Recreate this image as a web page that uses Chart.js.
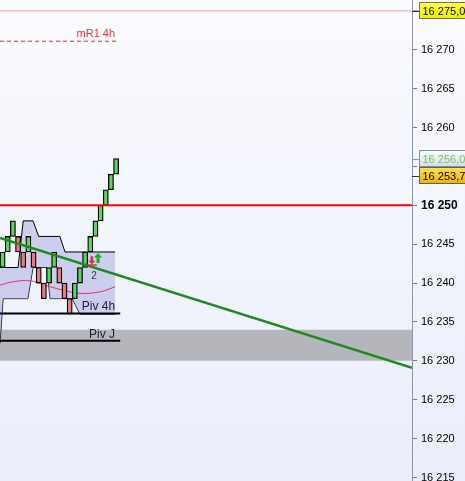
<!DOCTYPE html>
<html>
<head>
<meta charset="utf-8">
<script src="https://cdn.jsdelivr.net/npm/chart.js@4.4.0/dist/chart.umd.min.js"></script>
<style>
  html, body { margin: 0; padding: 0; background: #f5f7fd; }
  #wrap { width: 465px; height: 481px; position: relative; }
</style>
</head>
<body>
<div id="wrap"><canvas id="chart"></canvas></div>
<script>
// renko bricks, 2 points each
const brickOpen  = [16242, 16244, 16246, 16246, 16244, 16244, 16244, 16242, 16240, 16240, 16242, 16242, 16240, 16238, 16238, 16240, 16242, 16244, 16246, 16248, 16250, 16252, 16254];
const brickClose = [16244, 16246, 16248, 16244, 16242, 16246, 16242, 16240, 16238, 16242, 16244, 16240, 16238, 16236, 16240, 16242, 16244, 16246, 16248, 16250, 16252, 16254, 16256];

// channel (upper / lower)
const upperX = [-0.5, 3, 4, 5.9, 7, 11.1, 12.1, 21.8];
const upperY = [16242, 16242, 16248, 16248, 16246, 16246, 16244, 16244];
const lowerX = [-0.5, 0.1, 4.9, 5.9, 8.6, 9.2, 13.5, 15, 21.8];
const lowerY = [16232.3, 16238, 16238, 16242, 16242, 16238, 16238, 16236, 16236];

// moving average
const maX = [-0.5, 2, 5.3, 7.8, 11.7, 15, 18.9, 21.8];
const maY = [16239.74, 16240.17, 16240.3, 16239.8, 16239.1, 16238.68, 16238.88, 16239.52];

// trend line
const trendX = [-0.5, 79.35];
const trendY = [16245.8, 16229.1];

// levels
const levelR1 = 16271.1;
const levelTop = 16275;
const level16250 = 16250;
const levelPiv4h = 16236.1;
const levelPivJ = 16232.6;
const zoneTop = 16234;
const zoneBottom = 16230;

// signals
const sigX = [17.3, 18.5];
const sigP = [16242.8, 16243.1];
const sigDir = ['down', 'up'];
const sigCount = '2';

// price tags on the axis
const tagValues = [16275, 16256, 16253.75];
const tagTexts = ['16 275,00', '16 256,00', '16 253,75'];

const xMin = -0.5, xMax = 79.35;
const yMin = 16214.55, yMax = 16276.4;
const FONT = '"Liberation Sans", Arial, sans-serif';

const pts = (xs, ys) => xs.map((x, i) => ({ x, y: ys[i] }));
const hline = (v, x0, x1) => [{ x: x0, y: v }, { x: x1, y: v }];
const fmt = v => Math.round(v).toString().replace(/\B(?=(\d{3})+(?!\d))/g, ' ');

const lineBase = { type: 'line', pointRadius: 0, pointHoverRadius: 0, tension: 0, fill: false };

const bgPlugin = {
  id: 'bg',
  beforeDraw(chart) {
    const { ctx, width, height } = chart;
    const g = ctx.createLinearGradient(0, 0, 0, height);
    g.addColorStop(0, '#fbfbff');
    g.addColorStop(1, '#e9eefa');
    ctx.save();
    ctx.fillStyle = g;
    ctx.fillRect(0, 0, width, height);
    ctx.restore();
  }
};

const labelPlugin = {
  id: 'labels',
  afterDatasetsDraw(chart) {
    const { ctx } = chart;
    const x = chart.scales.x, y = chart.scales.y;
    const right = x.getPixelForValue(21.8);
    ctx.save();
    ctx.textAlign = 'right';
    ctx.textBaseline = 'alphabetic';
    ctx.font = '11px ' + FONT;
    ctx.fillStyle = '#ff2a2a';
    ctx.fillText('mR1 4h', right, y.getPixelForValue(levelR1) - 4);
    ctx.fillStyle = '#1c1c40';
    ctx.font = '12px ' + FONT;
    ctx.fillText('Piv 4h', right, y.getPixelForValue(levelPiv4h) - 3);
    ctx.fillText('Piv J', right, y.getPixelForValue(levelPivJ) - 3);

    // signal arrows
    sigX.forEach((sx, i) => {
      const px = x.getPixelForValue(sx), py = y.getPixelForValue(sigP[i]);
      ctx.beginPath();
      if (sigDir[i] === 'up') {
        ctx.fillStyle = '#22aa22';
        ctx.moveTo(px, py - 6); ctx.lineTo(px + 4, py - 1.5); ctx.lineTo(px + 1.5, py - 1.5);
        ctx.lineTo(px + 1.5, py + 4); ctx.lineTo(px - 1.5, py + 4); ctx.lineTo(px - 1.5, py - 1.5);
        ctx.lineTo(px - 4, py - 1.5); ctx.closePath();
      } else {
        ctx.fillStyle = '#e03030';
        ctx.moveTo(px, py + 3); ctx.lineTo(px + 3.5, py - 0.5); ctx.lineTo(px + 1.3, py - 0.5);
        ctx.lineTo(px + 1.3, py - 5); ctx.lineTo(px - 1.3, py - 5); ctx.lineTo(px - 1.3, py - 0.5);
        ctx.lineTo(px - 3.5, py - 0.5); ctx.closePath();
        ctx.fillRect(px - 4, py + 3, 9, 1.5);
      }
      ctx.fill();
    });
    ctx.textAlign = 'center';
    ctx.font = '10px ' + FONT;
    ctx.fillStyle = '#333344';
    ctx.fillText(sigCount, x.getPixelForValue(17.7), y.getPixelForValue(16241.0) + 4);
    ctx.restore();
  }
};

const tagPlugin = {
  id: 'tags',
  afterDraw(chart) {
    const { ctx } = chart;
    const y = chart.scales.y;
    const ax = chart.chartArea.right;
    const styles = [
      { top: '#ffff40', bot: '#f2f200', stroke: '#707070', text: '#000000', tick: '#333333' },
      { top: '#fafbfc', bot: '#d8dde4', stroke: '#8090a0', text: '#66cc66', tick: '#55cc55' },
      { top: '#ffe24a', bot: '#f0b400', stroke: '#606060', text: '#000000', tick: '#333333' }
    ];
    ctx.save();
    ctx.font = '11px ' + FONT;
    ctx.textBaseline = 'middle';
    ctx.textAlign = 'left';
    // draw lowest first so upper tags sit on top
    [2, 1, 0].forEach(i => {
      const py = Math.round(y.getPixelForValue(tagValues[i]));
      const s = styles[i];
      ctx.strokeStyle = s.tick;
      ctx.lineWidth = 1;
      ctx.beginPath(); ctx.moveTo(ax, py + 0.5); ctx.lineTo(ax + 8, py + 0.5); ctx.stroke();
      const bx = ax + 7.5, by = py - 8.5, bw = 52, bh = 16;
      const g = ctx.createLinearGradient(0, by, 0, by + bh);
      g.addColorStop(0, s.top); g.addColorStop(1, s.bot);
      ctx.fillStyle = g;
      ctx.fillRect(bx, by, bw, bh);
      ctx.strokeStyle = s.stroke;
      ctx.strokeRect(bx, by, bw, bh);
      ctx.fillStyle = s.text;
      ctx.fillText(tagTexts[i], bx + 3, py + 0.5);
    });
    ctx.restore();
  }
};

new Chart(document.getElementById('chart'), {
  type: 'bar',
  data: {
    datasets: [
      { ...lineBase, data: pts(trendX, trendY), borderColor: '#1f8a1f', borderWidth: 2.5, order: 0 },
      { ...lineBase, data: hline(level16250, xMin, xMax), borderColor: '#ff0000', borderWidth: 2, order: 1 },
      { ...lineBase, data: hline(levelPiv4h, xMin, 22.8), borderColor: '#000000', borderWidth: 2, order: 2 },
      { ...lineBase, data: hline(levelPivJ, xMin, 22.8), borderColor: '#000000', borderWidth: 2, order: 2 },
      { ...lineBase, data: hline(levelR1, xMin, 22.2), borderColor: '#e02828', borderWidth: 1, borderDash: [4, 3], order: 2 },
      { ...lineBase, data: hline(levelTop, xMin, 81), borderColor: '#ff9a9a', borderWidth: 1, order: 2, clip: { left: 0, top: 0, bottom: 0, right: 8 } },
      {
        type: 'bar',
        data: brickOpen.map((o, i) => ({ x: i, y: [o, brickClose[i]] })),
        backgroundColor: brickOpen.map((o, i) => brickClose[i] > o ? '#5ad85a' : '#ee7a7a'),
        borderColor: '#000000',
        borderWidth: 1.3,
        borderSkipped: false,
        barPercentage: 1,
        categoryPercentage: 1,
        grouped: false,
        order: 3
      },
      { ...lineBase, data: pts(maX, maY), borderColor: '#e8306a', borderWidth: 1, tension: 0.4, order: 4 },
      { ...lineBase, data: pts(upperX, upperY), borderColor: '#000000', borderWidth: 1, fill: '+1', backgroundColor: 'rgba(178,180,230,0.6)', order: 5 },
      { ...lineBase, data: pts(lowerX, lowerY), borderColor: '#000000', borderWidth: 1, order: 5 },
      { ...lineBase, data: hline(zoneTop, xMin, xMax), borderWidth: 0, borderColor: 'rgba(0,0,0,0)', fill: { value: zoneBottom }, backgroundColor: '#b4b6bc', order: 6 }
    ]
  },
  options: {
    responsive: true,
    maintainAspectRatio: false,
    animation: false,
    events: [],
    layout: { padding: 0 },
    plugins: { legend: { display: false }, tooltip: { enabled: false } },
    scales: {
      x: {
        type: 'linear',
        display: false,
        min: xMin,
        max: xMax,
        offset: false,
        ticks: { stepSize: 1, includeBounds: false }
      },
      y: {
        position: 'right',
        min: yMin,
        max: yMax,
        afterFit: s => { s.width = 53; s.paddingTop = 0; s.paddingBottom = 0; },
        border: { display: true, color: '#8496a8', width: 1 },
        grid: { drawOnChartArea: false, drawTicks: true, tickLength: 5, color: '#6f7f90' },
        ticks: {
          stepSize: 5,
          includeBounds: false,
          padding: 4,
          color: '#000000',
          font: c => (c.tick && c.tick.value === 16250)
            ? { family: FONT, size: 12, weight: 'bold' }
            : { family: FONT, size: 11 },
          callback: v => v === levelTop ? '' : fmt(v)
        }
      }
    }
  },
  plugins: [bgPlugin, labelPlugin, tagPlugin]
});
</script>
</body>
</html>
